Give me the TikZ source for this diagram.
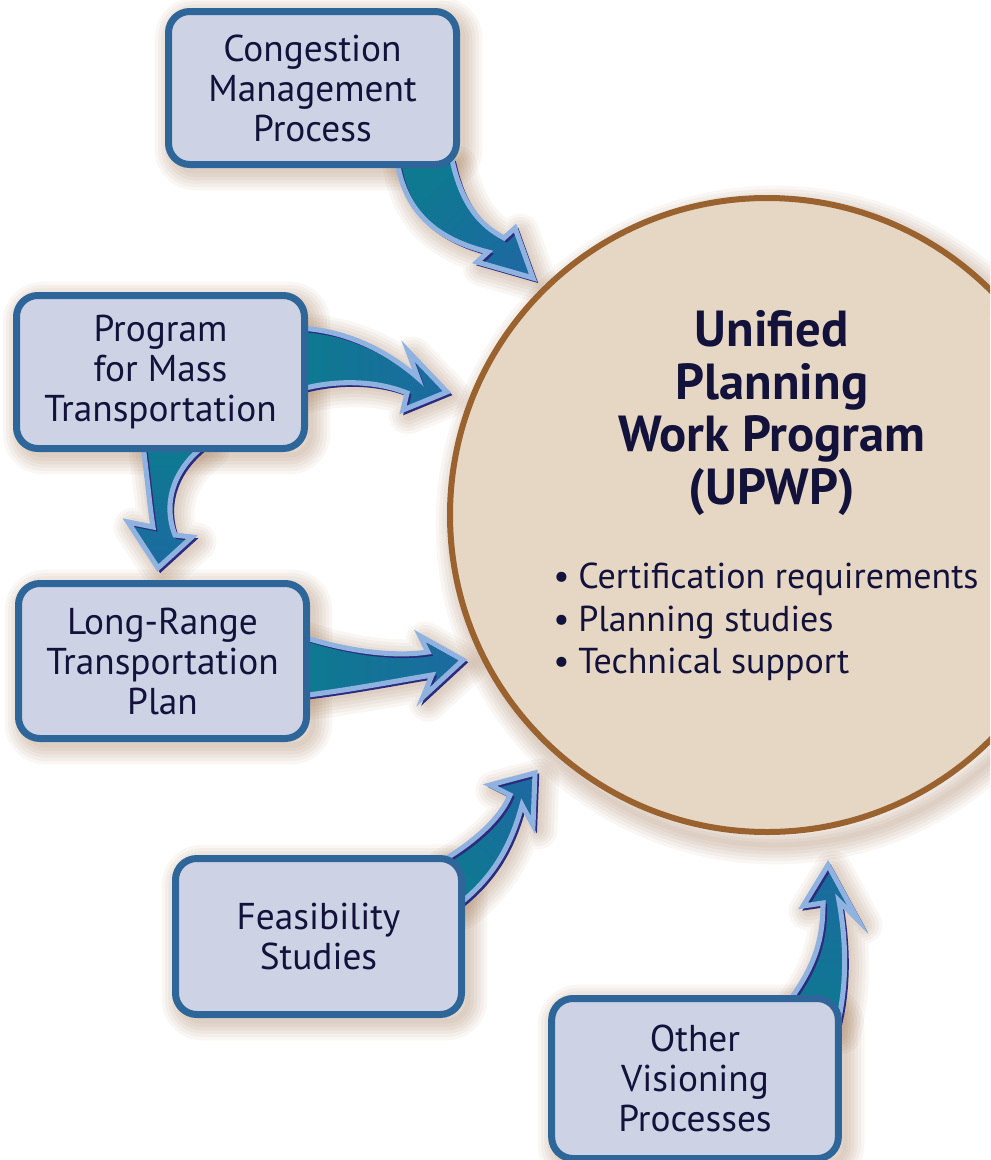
\documentclass[tikz,border=0pt]{standalone}
\usepackage{fontspec}
\setmainfont{PT Sans}
\definecolor{boxfill}{HTML}{CDD3E5}
\definecolor{boxdraw}{HTML}{2F6699}
\definecolor{txt}{HTML}{12123A}
\definecolor{circfill}{HTML}{E6D7C5}
\definecolor{circdraw}{HTML}{99622F}
\definecolor{glowc}{HTML}{8A5A30}
\definecolor{arrlight}{HTML}{8FB2E0}
\definecolor{arrnavy}{HTML}{2C2A7C}
\definecolor{tealA}{HTML}{0D7A90}
\definecolor{tealB}{HTML}{00A6E0}
\definecolor{tealC}{HTML}{1C6AA0}
\newcommand\glow[3]{\begin{scope}[shift={#1}]\foreach \w in {4,9,14,19,24,29}{\draw[glowc, opacity=0.055, line width=\w pt, line join=round, #2] #3;}\end{scope}}
\newcommand\fatarrow[2]{%
  \fill[top color=tealA, middle color=tealB, bottom color=tealC, #1] #2;
  \draw[arrnavy, line width=2.5pt, line join=miter, shift={(2.5,2.5)}] #2;
  \draw[arrlight, line width=3.8pt, line join=miter] #2;}
\tikzset{
  box/.style={draw=boxdraw, fill=boxfill, line width=5.25pt, rounded corners=16pt,
    text=txt, align=center, inner sep=0pt, font=\fontsize{28}{30}\selectfont},
  ttl/.style={text=txt, align=center, inner sep=0pt, font=\bfseries\fontsize{38}{39.5}\selectfont},
  bul/.style={text=txt, inner sep=0pt, anchor=base west, font=\fontsize{27}{31}\selectfont},
}
\begin{document}
\begin{tikzpicture}[x=0.75pt,y=-0.75pt]
\useasboundingbox (0,0) rectangle (990,1160);
\clip (0,0) rectangle (990,1160);
% soft shadows
\glow{(8,10)}{}{(767,515) circle (320)}
\glow{(6,6)}{rounded corners=16pt}{(168,11) rectangle (457,165)}
\glow{(6,6)}{rounded corners=16pt}{(16,295) rectangle (305,449)}
\glow{(6,6)}{rounded corners=16pt}{(18,583) rectangle (307,739)}
\glow{(6,6)}{rounded corners=16pt}{(175,858) rectangle (462,1015)}
\glow{(6,6)}{rounded corners=16pt}{(551,998) rectangle (839,1160)}
\glow{(5,5)}{}{(397,160) .. controls (405,215) and (440,240) .. (488,252) -- (477,262) -- (533,278) -- (515,228) -- (504,238) .. controls (480,225) and (462,205) .. (452,160) -- cycle}
\glow{(5,5)}{}{(298,328) .. controls (350,330) and (392,355) .. (418,378) -- (408,351) -- (447,392) -- (403,410) -- (407,393) .. controls (380,382) and (340,378) .. (298,390) -- cycle}
\glow{(5,5)}{}{(143,445) .. controls (148,485) and (150,508) .. (153,527) -- (128,522) -- (158,568) -- (192,537) -- (175,535) .. controls (163,505) and (172,470) .. (205,445) -- cycle}
\glow{(5,5)}{}{(300,636) .. controls (350,652) and (395,657) .. (428,652) -- (420,636) -- (463,660) -- (423,697) -- (432,675) .. controls (390,682) and (350,690) .. (300,696) -- cycle}
\glow{(5,5)}{}{(440,862) .. controls (470,845) and (500,820) .. (510,795) -- (490,785) -- (535,773) -- (533,825) -- (522,805) .. controls (510,850) and (490,880) .. (458,905) -- cycle}
\glow{(5,5)}{}{(790,1000) .. controls (815,965) and (823,940) .. (823,903) -- (803,906) -- (828,865) -- (858,920) -- (839,901) .. controls (846,940) and (848,985) .. (836,1030) -- cycle}
% central circle
\node[circle, draw=circdraw, fill=circfill, line width=4.5pt, minimum size=475.5pt, inner sep=0pt] (upwp) at (767,515) {};
\node[ttl] (title) at (772,413) {Unified\\Planning\\Work Program\\(UPWP)};
\node[bul] (b1) at (553,588) {\makebox[18.75pt][l]{•}Certification requirements};
\node[bul] (b2) at (553,631) {\makebox[18.75pt][l]{•}Planning studies};
\node[bul] (b3) at (553,673) {\makebox[18.75pt][l]{•}Technical support};
% fat arrows
\fatarrow{shading angle=45}{(397,160) .. controls (405,215) and (440,240) .. (488,252) -- (477,262) -- (533,278) -- (515,228) -- (504,238) .. controls (480,225) and (462,205) .. (452,160) -- cycle}
\fatarrow{shading angle=90}{(298,328) .. controls (350,330) and (392,355) .. (418,378) -- (408,351) -- (447,392) -- (403,410) -- (407,393) .. controls (380,382) and (340,378) .. (298,390) -- cycle}
\fatarrow{shading angle=0}{(143,445) .. controls (148,485) and (150,508) .. (153,527) -- (128,522) -- (158,568) -- (192,537) -- (175,535) .. controls (163,505) and (172,470) .. (205,445) -- cycle}
\fatarrow{shading angle=90}{(300,636) .. controls (350,652) and (395,657) .. (428,652) -- (420,636) -- (463,660) -- (423,697) -- (432,675) .. controls (390,682) and (350,690) .. (300,696) -- cycle}
\fatarrow{shading angle=135}{(440,862) .. controls (470,845) and (500,820) .. (510,795) -- (490,785) -- (535,773) -- (533,825) -- (522,805) .. controls (510,850) and (490,880) .. (458,905) -- cycle}
\fatarrow{shading angle=180}{(790,1000) .. controls (815,965) and (823,940) .. (823,903) -- (803,906) -- (828,865) -- (858,920) -- (839,901) .. controls (846,940) and (848,985) .. (836,1030) -- cycle}
% boxes
\node[box, minimum width=216pt, minimum height=114.75pt] (cmp) at (312.5,88) {Congestion\\Management\\Process};
\node[box, minimum width=216pt, minimum height=114.75pt] (pmt) at (160.5,372) {Program\\for Mass\\Transportation};
\node[box, minimum width=216pt, minimum height=116.25pt] (lrtp) at (162.5,661) {Long-Range\\Transportation\\Plan};
\node[box, minimum width=214.5pt, minimum height=117pt] (fs) at (318.5,936.5) {Feasibility\\Studies};
\node[box, minimum width=215pt, minimum height=120pt] (ovp) at (695,1078.5) {Other\\Visioning\\Processes};
\end{tikzpicture}
\end{document}
